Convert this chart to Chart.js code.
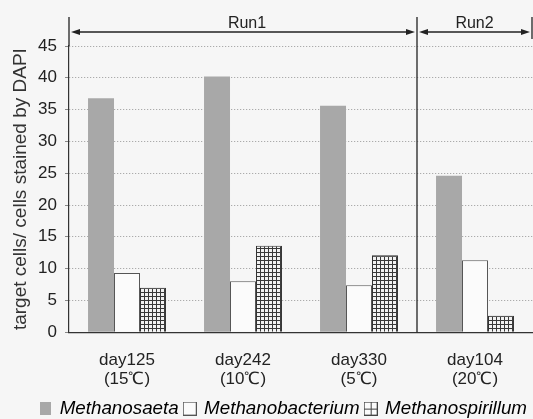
<!DOCTYPE html>
<html lang="ja">
<head>
<meta charset="UTF-8">
<title>target cells / DAPI</title>
<script src="https://cdn.jsdelivr.net/npm/chart.js"></script>
<style>
  html, body { margin: 0; padding: 0; background: #f6f6f6; }
  #wrap { width: 533px; height: 419px; }
</style>
</head>
<body>
<div id="wrap"><canvas id="chart"></canvas></div>
<script>
// data
const categories = [["day125", "(15℃)"], ["day242", "(10℃)"], ["day330", "(5℃)"], ["day104", "(20℃)"]];
const seriesNames = ["Methanosaeta", "Methanobacterium", "Methanospirillum"];
const methanosaeta = [36.8, 40.2, 35.6, 24.6];
const methanobacterium = [9.3, 8.0, 7.4, 11.3];
const methanospirillum = [7.0, 13.6, 12.1, 2.6];
const yTicks = [0, 5, 10, 15, 20, 25, 30, 35, 40, 45];
const runLabels = ["Run1", "Run2"];
const runSplit = 2.5; // boundary between day330 and day104

Chart.defaults.font.family = "'Liberation Sans', Arial, sans-serif";
Chart.defaults.color = "#222";

function makeCanvas(w, h, draw) {
  const c = document.createElement("canvas");
  c.width = w; c.height = h;
  draw(c.getContext("2d"), w, h);
  return c;
}

const gridTile = makeCanvas(4, 4, (g) => {
  g.fillStyle = "#f2f2f2"; g.fillRect(0, 0, 4, 4);
  g.fillStyle = "#383838"; g.fillRect(0, 0, 4, 1); g.fillRect(0, 0, 1, 4);
});
const gridPattern = document.createElement("canvas").getContext("2d").createPattern(gridTile, "repeat");

// legend icons
const icons = [
  makeCanvas(11, 13, (g, w, h) => { g.fillStyle = "#a8a8a8"; g.fillRect(0, 0, w, h); }),
  makeCanvas(14, 14, (g, w, h) => {
    g.fillStyle = "#fbfbfb"; g.fillRect(0, 0, w, h);
    g.strokeStyle = "#555"; g.strokeRect(0.5, 0.5, w - 1, h - 1);
  }),
  makeCanvas(14, 14, (g, w, h) => {
    g.fillStyle = "#fbfbfb"; g.fillRect(0, 0, w, h);
    g.strokeStyle = "#444"; g.strokeRect(0.5, 0.5, w - 1, h - 1);
    g.beginPath(); g.moveTo(7.5, 0); g.lineTo(7.5, h); g.moveTo(0, 7.5); g.lineTo(w, 7.5); g.stroke();
  })
];

const runBrackets = {
  id: "runBrackets",
  afterDraw(chart) {
    const { ctx, chartArea } = chart;
    const x = chart.scales.x;
    const top = chartArea.top, bottom = chartArea.bottom;
    const xl = chartArea.left, xm = x.getPixelForValue(runSplit), xr = chartArea.right - 1;
    const yTop = top - 29, yArr = top - 14;
    ctx.save();
    ctx.strokeStyle = "#222";
    ctx.fillStyle = "#222";
    ctx.lineWidth = 1.3;
    ctx.beginPath();
    ctx.moveTo(xl, yTop); ctx.lineTo(xl, top);
    ctx.moveTo(xm, yTop); ctx.lineTo(xm, bottom);
    ctx.moveTo(xr, yTop); ctx.lineTo(xr, yArr + 7);
    ctx.stroke();

    function arrow(a, b, y) {
      ctx.beginPath(); ctx.moveTo(a + 6, y); ctx.lineTo(b - 6, y); ctx.stroke();
      ctx.beginPath(); ctx.moveTo(a, y); ctx.lineTo(a + 9, y - 3); ctx.lineTo(a + 9, y + 3); ctx.closePath(); ctx.fill();
      ctx.beginPath(); ctx.moveTo(b, y); ctx.lineTo(b - 9, y - 3); ctx.lineTo(b - 9, y + 3); ctx.closePath(); ctx.fill();
    }
    arrow(xl + 2, xm - 2, yArr);
    arrow(xm + 2, xr - 2, yArr);

    ctx.font = "16px 'Liberation Sans', Arial, sans-serif";
    ctx.textAlign = "center";
    ctx.textBaseline = "middle";
    ctx.fillText(runLabels[0], (xl + xm) / 2 + 4, top - 22);
    ctx.fillText(runLabels[1], (xm + xr) / 2, top - 22);
    ctx.restore();
  }
};

const ctx = document.getElementById("chart").getContext("2d");
new Chart(ctx, {
  type: "bar",
  data: {
    labels: categories,
    datasets: [
      { label: seriesNames[0], data: methanosaeta, backgroundColor: "#a8a8a8", borderWidth: 0 },
      { label: seriesNames[1], data: methanobacterium, backgroundColor: "#fbfbfb", borderColor: "#555", borderWidth: 1 },
      { label: seriesNames[2], data: methanospirillum, backgroundColor: gridPattern, borderColor: "#333", borderWidth: 1 }
    ]
  },
  options: {
    responsive: true,
    maintainAspectRatio: false,
    animation: false,
    datasets: { bar: { categoryPercentage: 0.672, barPercentage: 1 } },
    layout: { padding: { top: 46, right: 0, left: 0, bottom: -9 } },
    plugins: {
      tooltip: { enabled: false },
      legend: {
        position: "bottom",
        align: "end",
        labels: {
          usePointStyle: true,
          pointStyleWidth: 10,
          padding: 6,
          color: "#333",
          font: { size: 18.8, style: "italic" },
          generateLabels(chart) {
            return chart.data.datasets.map((d, i) => ({
              text: d.label, pointStyle: icons[i], datasetIndex: i,
              fillStyle: "transparent", strokeStyle: "transparent", lineWidth: 0, hidden: false
            }));
          }
        }
      }
    },
    scales: {
      x: {
        afterFit(s) { s.height = 61; },
        grid: { display: false, drawTicks: false },
        border: { color: "#333", width: 1.2 },
        ticks: { padding: 18, font: { size: 17, lineHeight: 1.15 }, color: "#222" }
      },
      y: {
        min: 0, max: 45,
        afterFit(s) { s.width = 69; },
        afterBuildTicks(s) { s.ticks = yTicks.map(v => ({ value: v })); },
        grid: { color: "#999", tickLength: 4, tickColor: "#888" },
        border: { color: "#333", width: 1.2, dash: [1, 2] },
        ticks: { padding: 8, font: { size: 17 }, color: "#222" },
        title: {
          display: true,
          text: "target cells/ cells stained by DAPI",
          font: { size: 19 },
          color: "#333",
          padding: { top: 9, bottom: 0 }
        }
      }
    }
  },
  plugins: [runBrackets]
});
</script>
</body>
</html>
